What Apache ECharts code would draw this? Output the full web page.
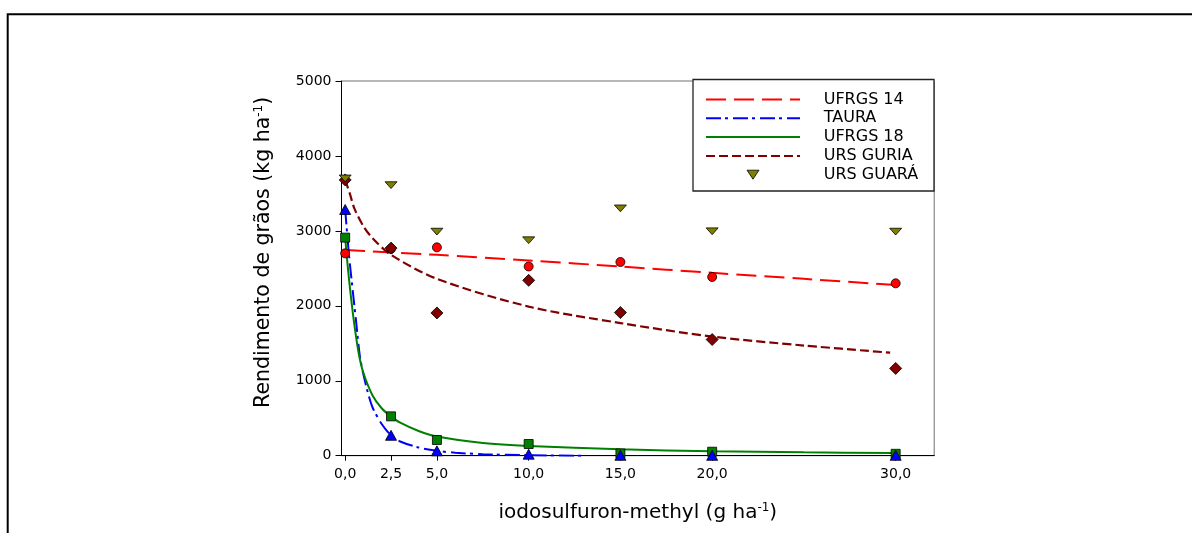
<!DOCTYPE html>
<html>
<head>
<meta charset="utf-8">
<script src="https://cdn.jsdelivr.net/npm/echarts@6/dist/echarts.min.js"></script>
<style>
  html, body { margin: 0; padding: 0; background: #fff; }
  #chart { width: 1192px; height: 533px; }
</style>
</head>
<body>
<div id="chart"></div>
<script>
// Doses of iodosulfuron-methyl (g ha-1) used in the trial
const doses = [0, 2.5, 5, 10, 15, 20, 30];
const doseTicks = [0, 2.5, 5, 10, 15, 20, 30];
const yieldTicks = [0, 1000, 2000, 3000, 4000, 5000];

// Observed grain yield (kg ha-1) per cultivar at each dose
const ufrgs14Obs = [2700, 2760, 2780, 2525, 2585, 2385, 2300];
const tauraObs = [3285, 272, 65, 20, 5, 5, 5];
const ufrgs18Obs = [2910, 525, 210, 156, 30, 53, 25];
const ursGuriaObs = [3680, 2770, 1905, 2340, 1910, 1550, 1165];
const ursGuaraObs = [3700, 3610, 2990, 2875, 3300, 2995, 2990];

// Fitted response curves (dose, yield)
const ufrgs14FitX = [0, 5, 10, 15, 20, 25, 30];
const ufrgs14FitY = [2745, 2680, 2605, 2525, 2440, 2360, 2278];

const tauraFitX = [0, 0.2, 0.4, 0.6, 0.8, 1, 1.25, 1.5, 2, 2.5, 3, 4, 5, 6, 7.5, 10, 13];
const tauraFitY = [3285, 2700, 2230, 1780, 1330, 1080, 830, 640, 420, 272, 190, 110, 65, 40, 20, 6, 0];

const ufrgs18FitX = [0, 0.15, 0.3, 0.5, 0.75, 1, 1.5, 2, 2.5, 3, 4, 5, 7.5, 10, 15, 20, 25, 30];
const ufrgs18FitY = [2910, 2500, 2150, 1750, 1350, 1100, 800, 630, 525, 440, 330, 255, 170, 130, 85, 60, 45, 35];

const ursGuriaFitX = [0, 0.25, 0.5, 1, 1.5, 2.5, 5, 10, 15, 20, 25, 29.7];
const ursGuriaFitY = [3680, 3500, 3300, 3060, 2900, 2680, 2360, 1990, 1770, 1590, 1470, 1375];

const names = ['UFRGS 14', 'TAURA', 'UFRGS 18', 'URS GURIA', 'URS GUARÁ'];

const FONT = 'DejaVu Sans';
const downTriangle = 'path://M0,0L12,0L6,9Z';

const pairs = (xs, ys) => xs.map((x, i) => [x, ys[i]]);

function fitLine(name, xs, ys, color, type, width) {
  return {
    name: name,
    type: 'line',
    data: pairs(xs, ys),
    symbol: 'none',
    smooth: 0.3,
    lineStyle: { color: color, width: width, type: type },
    itemStyle: { color: color },
    z: 2,
    silent: true
  };
}

function obsPoints(name, ys, color, symbol, size) {
  return {
    name: name,
    type: 'scatter',
    data: pairs(doses, ys),
    symbol: symbol,
    symbolSize: size,
    symbolKeepAspect: true,
    itemStyle: { color: color, borderColor: '#000', borderWidth: 0.8, opacity: 1 },
    z: 3,
    silent: true
  };
}

const superscript = {
  sup: { fontFamily: FONT, fontSize: 12, color: '#000', verticalAlign: 'bottom', padding: [0, 0, 10, 0] }
};

const chart = echarts.init(document.getElementById('chart'), null, { renderer: 'canvas' });

chart.setOption({
  animation: false,
  backgroundColor: '#fff',
  textStyle: { fontFamily: FONT, color: '#000' },
  grid: {
    left: 341.5, right: 257.8, top: 81, bottom: 77.3,
    show: true, borderColor: '#707070', borderWidth: 1,
    outerBoundsMode: 'none'
  },
  xAxis: {
    type: 'value',
    min: -0.2, max: 32.1,
    splitLine: { show: false },
    axisLine: { onZero: false, lineStyle: { color: '#000', width: 1 } },
    axisTick: { customValues: doseTicks, length: 5, lineStyle: { color: '#000' } },
    axisLabel: {
      customValues: doseTicks,
      formatter: v => v.toFixed(1).replace('.', ','),
      fontFamily: FONT, fontSize: 14, color: '#000', margin: 12
    },
    name: 'iodosulfuron-methyl (g ha{sup|-1})',
    nameLocation: 'middle',
    nameGap: 46,
    nameTextStyle: { fontFamily: FONT, fontSize: 20, color: '#000', rich: superscript }
  },
  yAxis: {
    type: 'value',
    min: 0, max: 5000, interval: 1000,
    splitLine: { show: false },
    axisLine: { show: true, onZero: false, lineStyle: { color: '#000', width: 1 } },
    axisTick: { show: true, length: 6, lineStyle: { color: '#000' } },
    axisLabel: {
      customValues: yieldTicks,
      formatter: v => String(v),
      fontFamily: FONT, fontSize: 14, color: '#000', margin: 10
    },
    name: 'Rendimento de grãos (kg ha{sup|-1})',
    nameLocation: 'middle',
    nameRotate: 90,
    nameGap: 67,
    nameTextStyle: {
      fontFamily: FONT, fontSize: 20.5, color: '#000', rich: superscript,
      padding: [0, 0, 0, 32]
    }
  },
  legend: {
    data: names.map(n => n === 'URS GUARÁ'
      ? { name: n, icon: downTriangle, itemStyle: { borderWidth: 0.8, borderColor: '#000' } }
      : { name: n, itemStyle: { opacity: 0 } }),
    orient: 'vertical',
    left: 705, top: 91.5,
    padding: 0,
    itemWidth: 94, itemHeight: 9, itemGap: 2.8,
    selectedMode: false,
    z: 10,
    textStyle: { fontFamily: FONT, fontSize: 16, color: '#000', padding: [0, 0, 0, 18.7] }
  },
  graphic: [
    {
      type: 'polyline', z: 1, silent: true,
      shape: { points: [[7.7, 533], [7.7, 14.3], [1192, 14.3]] },
      style: { stroke: '#000', lineWidth: 2, fill: null }
    },
    {
      type: 'rect', z: 5, silent: true,
      shape: { x: 693, y: 79.5, width: 241, height: 111.5 },
      style: { stroke: '#222', lineWidth: 1.3, fill: '#fff' }
    }
  ],
  series: [
    fitLine('UFRGS 14', ufrgs14FitX, ufrgs14FitY, '#ff0000', [20, 8], 2),
    fitLine('TAURA', tauraFitX, tauraFitY, '#0000ff', [15, 4, 3, 5], 2),
    fitLine('UFRGS 18', ufrgs18FitX, ufrgs18FitY, '#008000', 'solid', 2),
    fitLine('URS GURIA', ursGuriaFitX, ursGuriaFitY, '#800000', [9, 4], 2.2),
    obsPoints('UFRGS 14 observado', ufrgs14Obs, '#ff0000', 'circle', 9),
    obsPoints('URS GURIA observado', ursGuriaObs, '#800000', 'diamond', [12, 12]),
    obsPoints('UFRGS 18 observado', ufrgs18Obs, '#008000', 'rect', [9, 9]),
    obsPoints('TAURA observado', tauraObs, '#0000ff', 'triangle', [11, 10]),
    obsPoints('URS GUARÁ', ursGuaraObs, '#808000', downTriangle, [12, 9])
  ]
});
</script>
</body>
</html>
